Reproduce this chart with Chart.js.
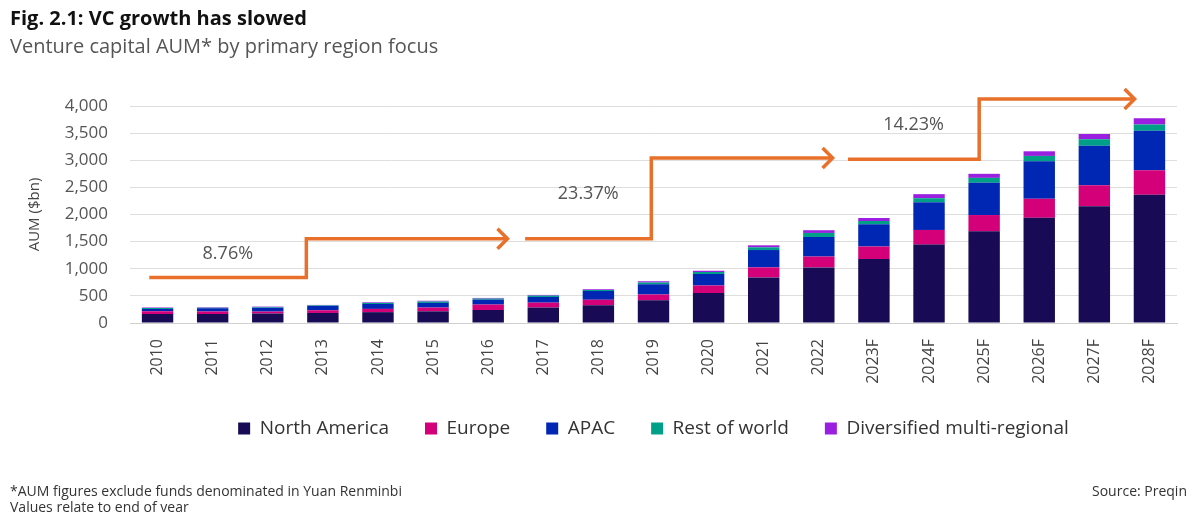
<!DOCTYPE html>
<html>
<head>
<meta charset="utf-8">
<script src="https://cdn.jsdelivr.net/npm/chart.js@4.4.1/dist/chart.umd.min.js"></script>
<style>
  html, body { margin: 0; padding: 0; background: #fff; }
  #wrap { position: relative; width: 1200px; height: 512px; overflow: hidden; font-family: "Open Sans", sans-serif; }
  #chartBox { position: absolute; left: 0; top: 0; width: 1200px; height: 512px; }
  .title { position: absolute; left: 10px; top: 4px; font-size: 20px; font-weight: 700; color: #111; }
  .subtitle { position: absolute; left: 10px; top: 32px; font-size: 20px; color: #555; }
  .note { position: absolute; left: 10px; font-size: 14px; color: #333; }
  .source { position: absolute; right: 13px; top: 481px; font-size: 14px; color: #333; }
</style>
</head>
<body>
<div id="wrap">
  <div id="chartBox"><canvas id="chart"></canvas></div>
  <div class="title">Fig. 2.1: VC growth has slowed</div>
  <div class="subtitle">Venture capital AUM* by primary region focus</div>
  <div class="note" style="top:481px">*AUM figures exclude funds denominated in Yuan Renminbi</div>
  <div class="note" style="top:497px">Values relate to end of year</div>
  <div class="source">Source: Preqin</div>
</div>
<script>
const years = ["2010", "2011", "2012", "2013", "2014", "2015", "2016", "2017", "2018", "2019",
  "2020", "2021", "2022", "2023F", "2024F", "2025F", "2026F", "2027F", "2028F"];

// AUM in $bn
const northAmerica = [165, 165, 175, 185, 200, 215, 240, 285, 325, 420, 555, 840, 1025, 1180, 1445, 1690, 1940, 2150, 2365];
const europe = [50, 45, 35, 50, 60, 70, 100, 90, 105, 105, 135, 185, 200, 230, 270, 300, 350, 390, 450];
const apac = [45, 60, 70, 80, 90, 85, 90, 105, 160, 190, 215, 320, 360, 410, 510, 595, 690, 725, 730];
const restOfWorld = [15, 12, 12, 10, 20, 25, 20, 25, 20, 30, 35, 50, 75, 60, 75, 90, 100, 120, 115];
const diversified = [12, 8, 10, 8, 12, 15, 12, 13, 12, 25, 25, 37, 50, 55, 75, 75, 85, 100, 115];

const yTicks = [0, 500, 1000, 1500, 2000, 2500, 3000, 3500, 4000];

// growth periods drawn as stepped arrows (category index / $bn)
const growthRates = ["8.76%", "23.37%", "14.23%"];
const periodStart = [-0.15, 6.67, 12.53];
const periodStep = [2.7, 8.96, 14.91];
const periodEnd = [6.35, 12.25, 17.73];
const levelBefore = [840, 1555, 3020];
const levelAfter = [1555, 3040, 4130];

const arrowPlugin = {
  id: "growthArrows",
  afterLayout(chart) {
    // centre the legend under the plot area, not the whole canvas
    chart.legend.left = chart.chartArea.left;
  },
  afterDatasetsDraw(chart) {
    const { ctx, scales } = chart;
    const x = scales.x, y = scales.y;
    ctx.save();
    ctx.strokeStyle = "#e8702a";
    ctx.lineWidth = 3.5;
    ctx.lineJoin = "miter";
    growthRates.forEach((rate, i) => {
      const x0 = x.getPixelForValue(periodStart[i]);
      const x1 = x.getPixelForValue(periodStep[i]);
      const x2 = x.getPixelForValue(periodEnd[i]);
      const y0 = y.getPixelForValue(levelBefore[i]);
      const y1 = y.getPixelForValue(levelAfter[i]);
      ctx.beginPath();
      ctx.moveTo(x0, y0);
      ctx.lineTo(x1, y0);
      ctx.lineTo(x1, y1);
      ctx.lineTo(x2, y1);
      ctx.stroke();
      // arrow head
      ctx.beginPath();
      ctx.moveTo(x2 - 10, y1 - 10);
      ctx.lineTo(x2, y1);
      ctx.lineTo(x2 - 10, y1 + 10);
      ctx.stroke();

      ctx.fillStyle = "#555";
      ctx.font = "18px 'Open Sans', sans-serif";
      ctx.textAlign = "center";
      ctx.textBaseline = "middle";
      ctx.fillText(rate, (x0 + x1) / 2, (y0 + y1) / 2 - 4);
    });
    ctx.restore();
  }
};

const colors = ["#180a55", "#d4007a", "#0027b3", "#00a088", "#9b1fe0"];
const names = ["North America", "Europe", "APAC", "Rest of world", "Diversified multi-regional"];
const series = [northAmerica, europe, apac, restOfWorld, diversified];

new Chart(document.getElementById("chart"), {
  type: "bar",
  data: {
    labels: years,
    datasets: series.map((d, i) => ({
      label: names[i],
      data: d,
      backgroundColor: colors[i],
      borderWidth: 0,
      barPercentage: 0.57,
      categoryPercentage: 1
    }))
  },
  options: {
    responsive: true,
    maintainAspectRatio: false,
    animation: false,
    layout: { padding: { top: 106, left: 22, right: 23, bottom: 64 } },
    plugins: {
      legend: {
        position: "bottom",
        labels: {
          boxWidth: 12,
          boxHeight: 12,
          padding: 36,
          color: "#333",
          font: { family: "'Open Sans', sans-serif", size: 19 }
        }
      },
      tooltip: { enabled: false }
    },
    scales: {
      x: {
        stacked: true,
        grid: { display: false },
        border: { color: "#cfcfcf" },
        ticks: {
          color: "#444",
          minRotation: 90,
          maxRotation: 90,
          padding: 8,
          font: { family: "'Open Sans', sans-serif", size: 16 }
        },
        afterFit(s) { s.height = 60; }
      },
      y: {
        stacked: true,
        min: 0,
        max: 4000,
        afterBuildTicks(s) { s.ticks = yTicks.map(v => ({ value: v })); },
        grid: { color: "#dedede", drawTicks: false },
        border: { display: false },
        ticks: {
          color: "#555",
          padding: 22,
          font: { family: "'Open Sans', sans-serif", size: 17 },
          callback: v => v.toLocaleString("en-US")
        },
        title: {
          display: true,
          text: "AUM ($bn)",
          color: "#444",
          font: { family: "'Open Sans', sans-serif", size: 15 }
        },
        afterFit(s) { s.width = 108; }
      }
    }
  },
  plugins: [arrowPlugin]
});
</script>
</body>
</html>
